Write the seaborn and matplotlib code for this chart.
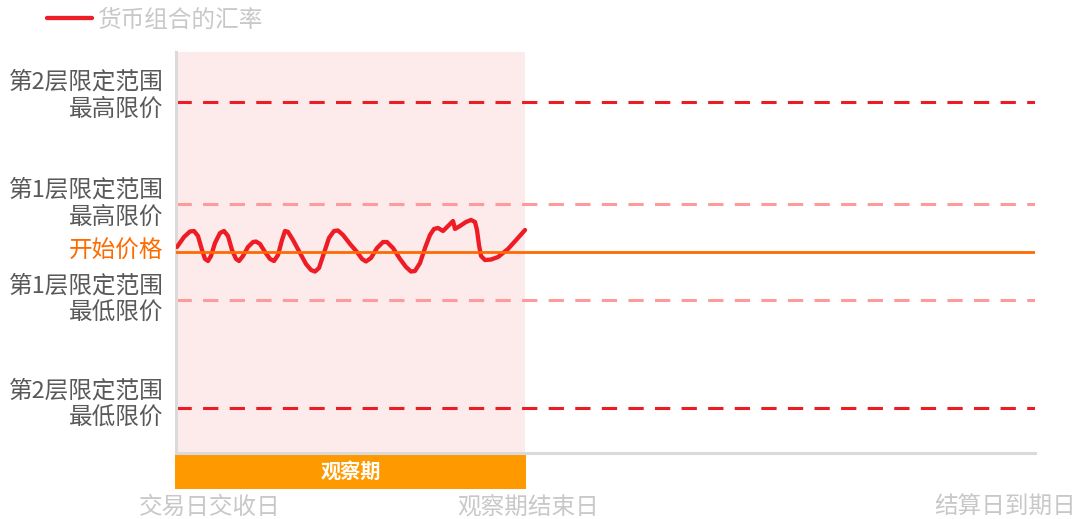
import matplotlib.pyplot as plt
import seaborn as sns
from matplotlib.patches import Rectangle
from matplotlib.transforms import ScaledTranslation

# 观察期内货币组合的汇率走势（开始价格 = 100）
days = [1, 8, 14, 18, 22, 26, 29, 32, 35, 39, 44, 48, 52, 56, 60, 63, 67, 72, 77, 80,
        84, 89, 94, 98, 102, 106, 109, 112, 117, 124, 130, 135, 139, 143, 148, 153, 158, 162,
        167, 174, 181, 186, 190, 195, 201, 207, 211, 217, 224, 230, 235, 239, 244, 249, 254,
        258, 262, 267, 271, 277, 279, 284, 290, 295, 299, 301, 303, 305, 309, 315, 322, 332,
        341, 349]
rate = [100.38, 101.21, 101.67, 101.71, 101.29, 100.13, 99.38, 99.21, 99.63, 100.71,
        101.54, 101.71, 101.29, 100.13, 99.38, 99.21, 99.63, 100.38, 100.79, 100.83,
        100.63, 99.96, 99.38, 99.21, 99.71, 100.96, 101.71, 101.63, 100.96, 99.88,
        98.96, 98.46, 98.33, 98.63, 99.88, 101.13, 101.71, 101.75, 101.38, 100.63,
        99.96, 99.38, 99.17, 99.46, 100.29, 100.79, 100.79, 100.29, 99.38, 98.71,
        98.33, 98.38, 99.04, 100.29, 101.38, 101.88, 101.96, 101.71, 102.04, 102.54,
        101.88, 102.13, 102.46, 102.63, 102.46, 101.79, 100.54, 99.63, 99.29, 99.33,
        99.54, 100.21, 101.04, 101.79]

start_price = 100
band1_upper = 104
band1_lower = 96
band2_upper = 112.5
band2_lower = 87

observation_end = 349
settlement_day = 859

level_values = [band2_upper, band1_upper, start_price, band1_lower, band2_lower]
level_labels = ["第2层限定范围\n最高限价", "第1层限定范围\n最高限价", "开始价格",
                "第1层限定范围\n最低限价", "第2层限定范围\n最低限价"]
date_labels = ["交易日交收日", "观察期结束日", "结算日到期日"]
legend_label = "货币组合的汇率"
period_label = "观察期"

sns.set_theme(style="white")
plt.rcParams['font.family'] = ['Noto Sans CJK SC', 'DejaVu Sans']

fig = plt.figure(figsize=(10.77, 5.19), dpi=100)
ax = fig.add_axes([176 / 1077, 1 - 453 / 519, (1035 - 176) / 1077, (453 - 52) / 519])

# 观察期背景
ax.axvspan(0, observation_end, color="#fdeaea", lw=0, zorder=0)

# 限定范围（虚线）
dash = (0, (5, 3.7))
ax.axhline(band2_upper, color="#ea1c24", lw=2.2, ls=dash, zorder=1)
ax.axhline(band2_lower, color="#ea1c24", lw=2.2, ls=dash, zorder=1)
ax.axhline(band1_upper, color="#ff9a9c", lw=2.2, ls=dash, zorder=1)
ax.axhline(band1_lower, color="#ff9a9c", lw=2.2, ls=dash, zorder=1)

sns.lineplot(x=days, y=rate, ax=ax, color="#ee1c25", lw=3.1, label=legend_label, zorder=3)
ax.axhline(start_price, color="#ff6a00", lw=2, zorder=4)

ax.set_xlim(0, settlement_day)
ax.set_ylim(83.21, 116.625)

sns.despine(ax=ax)
for side in ["left", "bottom"]:
    ax.spines[side].set_color("#dadada")
    ax.spines[side].set_linewidth(2.2)

# 观察期色块
trans = ax.get_xaxis_transform()
ax.add_patch(Rectangle((-1, -0.09), observation_end + 2, 0.087, transform=trans,
                       color="#ff9900", lw=0, clip_on=False, zorder=2))
ax.text(observation_end / 2, -0.045, period_label, transform=trans, ha="center", va="center",
        color="white", fontsize=14.5, fontweight="bold")

ax.set_xticks([0, observation_end, settlement_day], date_labels)
ax.set_yticks(level_values, level_labels)
ax.tick_params(axis="x", length=0, pad=31, labelsize=17, labelcolor="#c8c8c8")
ax.tick_params(axis="y", length=0, pad=9, labelsize=17, labelcolor="#595959")
ax.set_xlabel("")
ax.set_ylabel("")

for lab, dy in zip(ax.get_yticklabels(), [6, 0, 0, 0, 3]):
    lab.set_va("center")
    lab.set_linespacing(1.22)
    if lab.get_text() == "开始价格":
        lab.set_color("#ff6a00")
    lab.set_transform(lab.get_transform() + ScaledTranslation(0, dy / 100, fig.dpi_scale_trans))

for lab, dx in zip(ax.get_xticklabels(), [34, 3, -30]):
    lab.set_transform(lab.get_transform() + ScaledTranslation(dx / 100, 0, fig.dpi_scale_trans))

handles, labels = ax.get_legend_handles_labels()
ax.get_legend().remove()
fig.legend(handles, labels, loc="center left", bbox_to_anchor=(47 / 1077, 1 - 20 / 519),
           frameon=False, borderpad=0, borderaxespad=0, handlelength=1.9, handletextpad=0.2,
           fontsize=17, labelcolor="#c8c8c8")

fig.savefig("out.png", dpi=100)
